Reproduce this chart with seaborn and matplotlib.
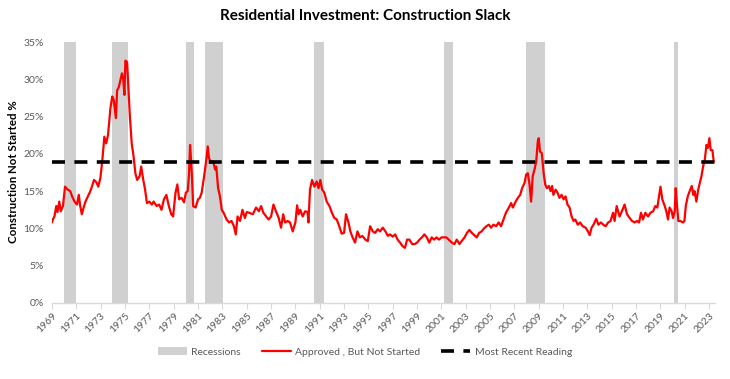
import numpy as np
import pandas as pd
import matplotlib
matplotlib.use("Agg")
import matplotlib.pyplot as plt
import seaborn as sns
from matplotlib.patches import Patch
from matplotlib.lines import Line2D
from matplotlib.ticker import FuncFormatter

# Share of approved housing units not yet started (%)
year = [
    1969.00, 1969.10, 1969.20, 1969.35, 1969.45, 1969.60, 1969.72, 1969.90,
    1970.07, 1970.30, 1970.50, 1970.65, 1970.85, 1971.05, 1971.20, 1971.32,
    1971.45, 1971.60, 1971.75, 1971.95, 1972.15, 1972.30, 1972.45, 1972.65,
    1972.80, 1972.98, 1973.15, 1973.30, 1973.45, 1973.60, 1973.80, 1973.95,
    1974.08, 1974.25, 1974.35, 1974.50, 1974.62, 1974.75, 1974.85, 1974.95,
    1975.03, 1975.17, 1975.28, 1975.40, 1975.55, 1975.70, 1975.85, 1976.00,
    1976.20, 1976.33, 1976.50, 1976.65, 1976.80, 1977.00, 1977.20, 1977.35,
    1977.60, 1977.80, 1978.00, 1978.20, 1978.40, 1978.60, 1978.80, 1978.95,
    1979.15, 1979.30, 1979.45, 1979.65, 1979.85, 1980.00, 1980.15, 1980.25,
    1980.35, 1980.50, 1980.60, 1980.80, 1981.00, 1981.15, 1981.30, 1981.50,
    1981.65, 1981.80, 1981.90, 1982.10, 1982.25, 1982.40, 1982.50, 1982.65,
    1982.80, 1982.95, 1983.10, 1983.35, 1983.55, 1983.75, 1983.95, 1984.10,
    1984.25, 1984.45, 1984.65, 1984.85, 1985.00, 1985.20, 1985.50, 1985.77,
    1986.00, 1986.18, 1986.37, 1986.60, 1986.80, 1987.00, 1987.20, 1987.40,
    1987.63, 1987.82, 1988.00, 1988.15, 1988.37, 1988.56, 1988.78, 1989.00,
    1989.14, 1989.27, 1989.40, 1989.60, 1989.80, 1990.00, 1990.07, 1990.20,
    1990.37, 1990.56, 1990.75, 1990.90, 1991.05, 1991.20, 1991.38, 1991.57,
    1991.80, 1992.00, 1992.20, 1992.40, 1992.60, 1992.80, 1993.00, 1993.16,
    1993.36, 1993.52, 1993.70, 1993.90, 1994.10, 1994.30, 1994.50, 1994.75,
    1994.95, 1995.14, 1995.36, 1995.55, 1995.77, 1995.96, 1996.18, 1996.40,
    1996.60, 1996.78, 1997.00, 1997.20, 1997.40, 1997.60, 1997.82, 1998.00,
    1998.18, 1998.37, 1998.60, 1998.80, 1999.00, 1999.20, 1999.40, 1999.60,
    1999.80, 2000.00, 2000.20, 2000.40, 2000.60, 2000.80, 2001.00, 2001.20,
    2001.40, 2001.60, 2001.85, 2002.07, 2002.26, 2002.48, 2002.67, 2002.90,
    2003.10, 2003.30, 2003.50, 2003.70, 2003.90, 2004.10, 2004.30, 2004.50,
    2004.70, 2004.90, 2005.08, 2005.27, 2005.50, 2005.70, 2005.90, 2006.10,
    2006.30, 2006.54, 2006.73, 2006.87, 2007.10, 2007.28, 2007.47, 2007.63,
    2007.83, 2007.96, 2008.10, 2008.24, 2008.37, 2008.50, 2008.65, 2008.79,
    2008.92, 2009.00, 2009.10, 2009.25, 2009.40, 2009.53, 2009.66, 2009.83,
    2009.97, 2010.10, 2010.20, 2010.38, 2010.54, 2010.70, 2010.87, 2011.04,
    2011.20, 2011.36, 2011.53, 2011.70, 2011.86, 2012.00, 2012.20, 2012.40,
    2012.60, 2012.85, 2013.04, 2013.18, 2013.34, 2013.50, 2013.72, 2013.90,
    2014.10, 2014.30, 2014.50, 2014.70, 2014.90, 2015.10, 2015.23, 2015.40,
    2015.64, 2015.83, 2016.05, 2016.25, 2016.47, 2016.66, 2016.88, 2017.07,
    2017.24, 2017.40, 2017.56, 2017.76, 2017.98, 2018.17, 2018.39, 2018.58,
    2018.74, 2018.88, 2019.00, 2019.15, 2019.35, 2019.48, 2019.62, 2019.75,
    2019.92, 2020.03, 2020.17, 2020.25, 2020.36, 2020.47, 2020.63, 2020.86,
    2020.97, 2021.08, 2021.24, 2021.40, 2021.57, 2021.70, 2021.80, 2021.95,
    2022.08, 2022.20, 2022.37, 2022.50, 2022.64, 2022.78, 2022.90, 2023.02,
    2023.13, 2023.27, 2023.38,
]
pct = [
    10.8, 11.3, 11.6, 13.0, 12.2, 13.6, 12.3, 13.0,
    15.6, 15.2, 15.0, 14.3, 13.6, 13.2, 14.5, 13.0,
    11.9, 12.8, 13.6, 14.3, 15.0, 15.7, 16.5, 16.2,
    15.6, 16.8, 19.4, 22.3, 21.4, 22.5, 26.1, 27.7,
    27.2, 24.8, 28.5, 29.0, 29.9, 30.8, 30.1, 27.9,
    32.5, 32.3, 28.8, 25.0, 21.4, 19.7, 17.4, 16.5,
    17.0, 18.3, 16.5, 15.2, 13.4, 13.6, 13.2, 13.6,
    13.0, 13.2, 12.5, 13.9, 14.5, 13.0, 11.9, 11.6,
    14.8, 15.9, 13.9, 14.1, 13.5, 14.8, 15.0, 17.0,
    21.2, 17.0, 13.0, 12.8, 13.9, 14.1, 14.8, 17.0,
    18.8, 21.0, 19.4, 18.8, 19.0, 17.9, 18.3, 15.4,
    14.3, 12.5, 12.1, 11.2, 10.8, 11.0, 10.3, 9.2,
    11.6, 11.0, 12.5, 11.4, 12.2, 12.1, 11.9, 12.8,
    12.3, 13.0, 12.1, 11.6, 11.2, 11.6, 13.2, 12.3,
    11.4, 10.1, 11.9, 10.8, 11.0, 10.8, 9.6, 10.8,
    13.1, 11.9, 12.5, 11.6, 12.3, 12.2, 10.8, 15.2,
    16.5, 15.6, 16.3, 15.4, 16.5, 15.2, 14.8, 13.6,
    13.0, 12.1, 11.4, 11.2, 10.3, 9.3, 9.4, 11.9,
    10.8, 9.6, 8.8, 8.1, 9.6, 8.8, 9.0, 8.5,
    8.3, 10.3, 9.6, 9.4, 9.9, 9.6, 10.1, 9.6,
    9.0, 9.2, 8.9, 9.2, 8.5, 8.1, 7.6, 7.4,
    8.5, 8.5, 7.9, 7.9, 8.1, 8.5, 8.8, 9.2,
    8.8, 8.1, 8.8, 8.5, 8.8, 8.5, 8.8, 8.8,
    8.8, 8.5, 8.1, 7.9, 8.5, 7.9, 8.3, 8.8,
    9.4, 9.8, 9.4, 9.1, 8.8, 9.4, 9.6, 10.0,
    10.3, 10.5, 10.1, 10.5, 10.3, 10.8, 10.3, 11.2,
    12.1, 12.8, 13.4, 12.8, 13.6, 14.1, 14.5, 15.4,
    16.1, 17.2, 17.4, 15.9, 13.6, 17.0, 17.9, 19.0,
    21.7, 22.1, 20.3, 20.1, 17.4, 15.9, 15.4, 15.7,
    15.0, 15.7, 14.5, 15.2, 14.8, 14.1, 14.5, 13.9,
    14.3, 13.2, 12.8, 11.6, 11.0, 11.2, 10.5, 10.8,
    10.3, 10.1, 9.6, 9.1, 10.1, 10.5, 11.3, 10.5,
    10.8, 10.5, 10.3, 10.8, 11.0, 12.1, 11.0, 13.0,
    11.6, 12.3, 13.2, 11.9, 11.4, 11.0, 10.8, 11.0,
    10.8, 12.1, 11.2, 12.1, 11.6, 12.1, 12.3, 13.0,
    12.8, 14.3, 15.6, 13.9, 13.0, 12.3, 11.2, 12.8,
    12.3, 11.4, 12.3, 15.4, 13.0, 11.0, 11.0, 10.8,
    11.0, 13.0, 14.3, 15.0, 15.7, 14.5, 15.0, 13.6,
    15.0, 15.9, 17.0, 18.3, 19.2, 21.2, 20.8, 22.1,
    20.5, 20.5, 18.9,
]

# NBER recessions as shaded on the chart (decimal years)
rec_start = [1970.00, 1973.90, 1980.03, 1981.54, 1990.56, 2001.18, 2007.99, 2020.14]
rec_end = [1971.00, 1975.28, 1980.63, 1983.02, 1991.33, 2001.98, 2009.52, 2020.41]

tick_years = list(range(1969, 2024, 2))

sns.set_style("white")
plt.rcParams["font.family"] = ["Lato", "DejaVu Sans"]

grey_txt = "#595959"
rec_color = "#d0d0d0"

fig, ax = plt.subplots(figsize=(7.3, 3.79), dpi=100)
fig.subplots_adjust(left=52 / 730, right=715 / 730, top=1 - 42 / 379, bottom=1 - 303 / 379)

for s, e in zip(rec_start, rec_end):
    ax.axvspan(s, e, color=rec_color, lw=0, zorder=0)

df = pd.DataFrame({"year": year, "pct": pct})
sns.lineplot(data=df, x="year", y="pct", color="#ff0000", lw=1.6, ax=ax, zorder=3)

latest = pct[-1]
ref = pd.DataFrame({"year": [year[0], year[-1] + 0.1], "pct": [latest, latest]})
sns.lineplot(data=ref, x="year", y="pct", color="black", lw=2.6,
             linestyle=(0, (3.6, 2.6)), ax=ax, zorder=4)

ax.set_xlim(year[0], year[-1] + 0.1)
ax.set_ylim(0, 35)
ax.set_yticks(np.arange(0, 36, 5))
ax.yaxis.set_major_formatter(FuncFormatter(lambda v, _: f"{v:.0f}%"))
ax.set_xticks(tick_years)
ax.set_xticklabels([str(y) for y in tick_years], rotation=45, ha="right",
                   rotation_mode="anchor")

for side in ["top", "right", "left"]:
    ax.spines[side].set_visible(False)
ax.spines["bottom"].set_color("#d9d9d9")
ax.spines["bottom"].set_linewidth(1)
ax.tick_params(axis="x", length=4, color="#d9d9d9", labelsize=7.5, labelcolor=grey_txt, pad=2, bottom=True)
ax.tick_params(axis="y", length=0, labelsize=7.5, labelcolor=grey_txt, pad=6)
ax.set_xlabel("")
ax.set_ylabel("")

fig.text(0.5, 1 - 16 / 379, "Residential Investment: Construction Slack",
         ha="center", va="center", fontsize=11, fontweight="bold", color="black")
fig.text(14 / 730, 1 - 172 / 379, "Construction Not Started %", rotation=90,
         ha="center", va="center", fontsize=8.3, fontweight="bold", color="black")

handles = [
    Patch(facecolor=rec_color, edgecolor="none"),
    Line2D([0], [0], color="#ff0000", lw=1.6),
    Line2D([0], [0], color="black", lw=2.6, linestyle=(0, (3.6, 2.6))),
]
labels = ["Recessions", "Approved , But Not Started", "Most Recent Reading"]
leg = fig.legend(handles, labels, loc="center", bbox_to_anchor=(0.5, 1 - 352 / 379),
                 ncol=3, frameon=False, fontsize=7.5, handlelength=2.8,
                 handleheight=0.7, columnspacing=2.0, handletextpad=0.4)
for t in leg.get_texts():
    t.set_color(grey_txt)

fig.savefig("out.png", dpi=100)
